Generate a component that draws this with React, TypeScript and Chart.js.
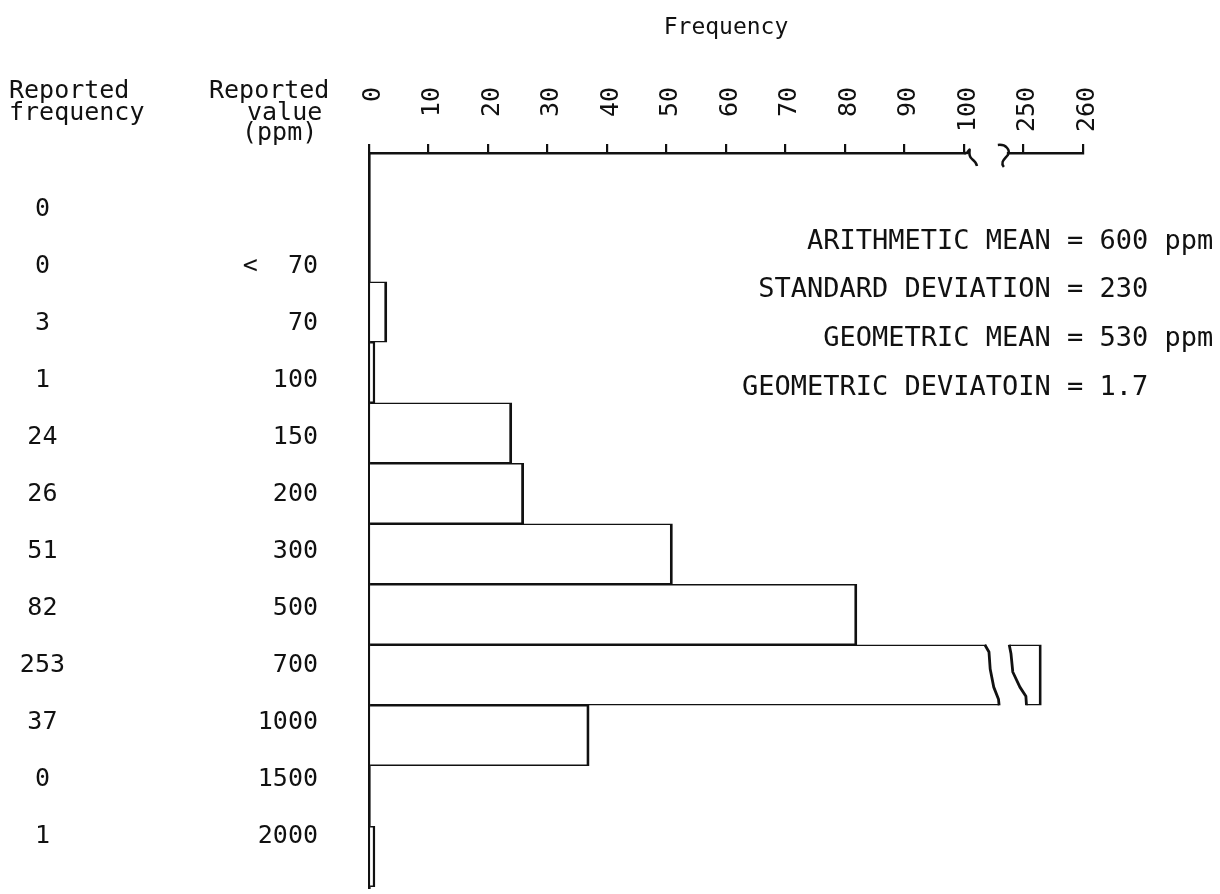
import React, { useEffect, useRef } from 'react';
import { Chart, registerables } from 'chart.js';

Chart.register(...registerables);

// ---- data ----
const valueLabels = ['', '<  70', '70', '100', '150', '200', '300', '500', '700', '1000', '1500', '2000'];
const reportedFrequency = [0, 0, 3, 1, 24, 26, 51, 82, 253, 37, 0, 1];
const frequencyTicks = [0, 10, 20, 30, 40, 50, 60, 70, 80, 90, 100, 250, 260];
const breakStart = 100;
const breakEnd = 250;
const breakWidth = 10;
const statNames = ['ARITHMETIC MEAN', 'STANDARD DEVIATION', 'GEOMETRIC MEAN', 'GEOMETRIC DEVIATOIN'];
const statValues = ['600 ppm', '230', '530 ppm', '1.7'];

const toAxis = (v: number) => (v <= breakStart ? v : v - (breakEnd - breakStart) + breakWidth);
const fromAxis = (a: number) => (a <= breakStart ? a : a + (breakEnd - breakStart) - breakWidth);

const FONT = '"DejaVu Sans Mono", "Liberation Mono", monospace';
const INK = '#111';

const decorPlugin = {
  id: 'decor',
  afterDatasetsDraw(chart: any) {
    const ctx = chart.ctx;
    const xs = chart.scales.x;
    const meta = chart.getDatasetMeta(0);
    meta.data.forEach((bar: any, i: number) => {
      if (reportedFrequency[i] <= breakStart) return;
      const { y, height } = bar.getProps(['y', 'height'], true);
      const top = y - height / 2;
      const bot = y + height / 2;
      const edgeA = [[103.5, 0], [104.2, 0.12], [104.4, 0.4], [105.0, 0.7], [105.8, 0.9], [105.9, 1]];
      const edgeB = [[107.6, 0], [107.9, 0.15], [108.2, 0.45], [109.4, 0.7], [110.4, 0.85], [110.5, 1]];
      const pt = (p: number[]) => [xs.getPixelForValue(p[0]), top + (bot - top) * p[1]];
      ctx.save();
      ctx.beginPath();
      edgeA.forEach((p, k) => {
        const [px, py] = pt(p);
        if (k === 0) ctx.moveTo(px, py - 2);
        else ctx.lineTo(px, k === edgeA.length - 1 ? py + 2 : py);
      });
      [...edgeB].reverse().forEach((p, k) => {
        const [px, py] = pt(p);
        ctx.lineTo(px, k === 0 ? py + 2 : k === edgeB.length - 1 ? py - 2 : py);
      });
      ctx.closePath();
      ctx.fillStyle = '#fff';
      ctx.fill();
      ctx.strokeStyle = INK;
      ctx.lineWidth = 2.8;
      ctx.lineJoin = 'round';
      [edgeA, edgeB].forEach((edge) => {
        ctx.beginPath();
        edge.forEach((p, k) => {
          const [px, py] = pt(p);
          if (k === 0) ctx.moveTo(px, py);
          else ctx.lineTo(px, py);
        });
        ctx.stroke();
      });
      ctx.restore();
    });
  },
  afterDraw(chart: any) {
    const ctx = chart.ctx;
    const xs = chart.scales.x;
    const y0 = xs.bottom;
    ctx.save();
    // axis break
    const p1 = xs.getPixelForValue(breakStart);
    const p2 = xs.getPixelForValue(breakStart + 7.2);
    ctx.fillStyle = '#fff';
    ctx.fillRect(p1 + 2, y0 - 3, p2 - p1 - 2, 6);
    ctx.strokeStyle = INK;
    ctx.lineWidth = 2.5;
    ctx.beginPath();
    ctx.moveTo(p1, y0);
    ctx.lineTo(p1 + 3, y0);
    ctx.bezierCurveTo(p1 + 9, y0 - 9, p1 + 2, y0 + 2, p1 + 8, y0 + 6);
    ctx.quadraticCurveTo(p1 + 12, y0 + 9, p1 + 13, y0 + 13);
    ctx.stroke();
    ctx.beginPath();
    ctx.moveTo(p2 - 9, y0 - 8);
    ctx.bezierCurveTo(p2 - 1, y0 - 9, p2 + 4, y0 - 3, p2 + 1, y0 + 2);
    ctx.bezierCurveTo(p2 - 2, y0 + 6, p2 - 7, y0 + 9, p2 - 3, y0 + 14);
    ctx.stroke();

    // headers
    ctx.fillStyle = INK;
    ctx.textBaseline = 'middle';
    ctx.font = `23px ${FONT}`;
    ctx.textAlign = 'center';
    ctx.fillText('Frequency', (chart.chartArea.left + chart.chartArea.right) / 2, 28);
    ctx.font = `25px ${FONT}`;
    ctx.textAlign = 'left';
    ctx.fillText('Reported', 9, 91);
    ctx.fillText('frequency', 9, 113);
    ctx.fillText('Reported', 209, 91);
    ctx.fillText('value', 247, 113);
    ctx.fillText('(ppm)', 242, 133);

    // statistics
    ctx.font = `27px ${FONT}`;
    const eqX = 1067;
    const rows = [242, 290, 339, 388];
    statNames.forEach((name, k) => {
      const w = ctx.measureText(name + ' ').width;
      ctx.fillText(`${name} = ${statValues[k]}`, eqX - w, rows[k]);
    });
    ctx.restore();
  },
};

export default function App() {
  const ref = useRef<HTMLCanvasElement | null>(null);
  useEffect(() => {
    document.body.style.margin = '0';
    if (!ref.current) return;
    const rowTicks = (scale: any) => {
      scale.ticks = valueLabels.map((_, i) => ({ value: i }));
    };
    const fitRows = (w: number) => (s: any) => {
      s.width = w;
      s.paddingTop = 0;
      s.paddingBottom = 0;
    };
    // bar rows and the (typed) row labels sit on slightly different spacings in the original
    const barMin = -0.628;
    const barMax = 11.52;
    const labelMin = -0.992;
    const labelMax = 11.912;
    const chart = new Chart(ref.current, {
      type: 'bar',
      data: {
        datasets: [
          {
            data: reportedFrequency.map((v, i) => ({ x: toAxis(v), y: i })),
            backgroundColor: '#fff',
            borderColor: INK,
            borderWidth: { top: 1.6, bottom: 1.6, left: 0, right: 2.8 },
            borderSkipped: false,
            categoryPercentage: 1,
            barPercentage: 1,
            xAxisID: 'x',
            yAxisID: 'yb',
          } as any,
        ],
      },
      options: {
        indexAxis: 'y',
        animation: false,
        responsive: false,
        devicePixelRatio: 1,
        layout: { padding: { top: 0, left: 0, right: 137, bottom: 6 } },
        plugins: { legend: { display: false }, tooltip: { enabled: false } },
        scales: {
          x: {
            type: 'linear',
            position: 'top',
            min: 0,
            max: toAxis(frequencyTicks[frequencyTicks.length - 1]),
            afterBuildTicks: (s: any) => {
              s.ticks = frequencyTicks.map((v) => ({ value: toAxis(v) }));
            },
            afterFit: (s: any) => {
              s.height = 153;
              s.paddingLeft = 0;
              s.paddingRight = 0;
            },
            grid: { display: true, drawOnChartArea: false, drawTicks: true, tickLength: 9, color: INK, lineWidth: 2.2 },
            border: { display: true, color: INK, width: 2.6 },
            ticks: {
              autoSkip: false,
              minRotation: 90,
              maxRotation: 90,
              padding: 12,
              labelOffset: 34,
              color: INK,
              font: { family: FONT, size: 25 },
              callback: (v: any) => String(fromAxis(Number(v))).padStart(3, ' '),
            },
          },
          yb: {
            type: 'linear',
            axis: 'y',
            position: 'left',
            display: false,
            reverse: true,
            offset: false,
            min: barMin,
            max: barMax,
            afterBuildTicks: rowTicks,
          },
          y: {
            type: 'linear',
            axis: 'y',
            position: 'left',
            reverse: true,
            offset: false,
            min: labelMin,
            max: labelMax,
            weight: 0,
            afterBuildTicks: rowTicks,
            afterFit: fitRows(259),
            grid: { display: false, drawTicks: false, offset: false },
            border: { display: true, color: INK, width: 2.6 },
            ticks: {
              autoSkip: false,
              padding: 51,
              color: INK,
              font: { family: FONT, size: 25 },
              callback: (v: any) => valueLabels[Number(v)] ?? '',
            },
          },
          yf: {
            type: 'linear',
            axis: 'y',
            position: 'left',
            reverse: true,
            offset: false,
            min: labelMin,
            max: labelMax,
            weight: 1,
            afterBuildTicks: rowTicks,
            afterFit: fitRows(110),
            grid: { display: false, drawTicks: false },
            border: { display: false },
            ticks: {
              autoSkip: false,
              padding: 45,
              crossAlign: 'center',
              color: INK,
              font: { family: FONT, size: 25 },
              callback: (v: any) => {
                const f = reportedFrequency[Number(v)];
                return f === undefined ? '' : String(f);
              },
            },
          },
        } as any,
      },
      plugins: [decorPlugin],
    });
    return () => chart.destroy();
  }, []);
  return (
    <div style={{ width: 1220, height: 894, background: '#fff' }}>
      <canvas ref={ref} width={1220} height={894} style={{ display: 'block', width: 1220, height: 894 }} />
    </div>
  );
}
